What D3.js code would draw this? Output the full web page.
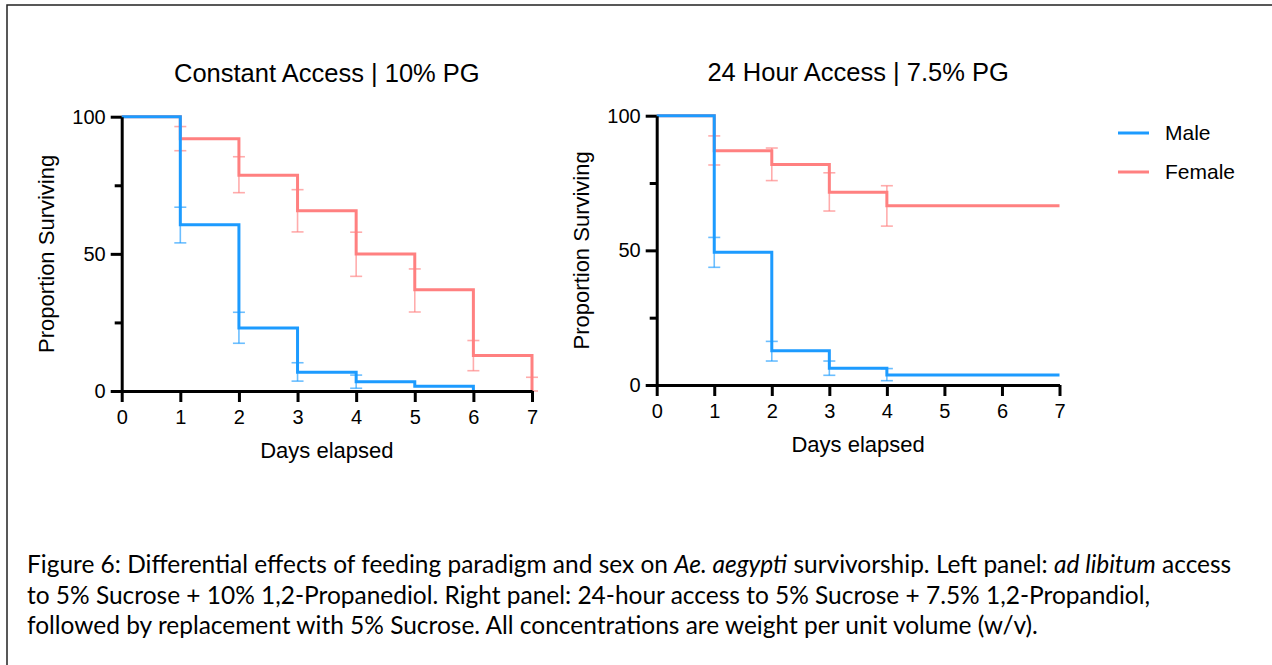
<!DOCTYPE html>
<meta charset="utf-8">
<style>
body { margin: 0; background: #fff; }
svg text { font-family: "Liberation Sans", Arial, sans-serif; fill: #000; }
.axis path, .axis line { stroke: #000; stroke-width: 3px; }
.axis text { font-size: 20px; font-family: "Liberation Sans", Arial, sans-serif; }
.step { fill: none; stroke-width: 3px; }
.err { stroke-width: 1.6px; stroke-opacity: 0.65; }
.caption { font-family: Lato, "Open Sans", sans-serif; }
</style>
<svg width="1272" height="665"></svg>
<script src="https://cdn.jsdelivr.net/npm/d3@7"></script>
<script>
// survival data, % surviving per day
var days = [0, 1, 2, 3, 4, 5, 6, 7];
var yTicks = [0, 50, 100];
var yMinor = [25, 75];

var leftMale   = [100, 60.6, 23.0, 6.8, 3.4, 1.7, 0];
var leftFemale = [100, 92.0, 78.7, 65.7, 49.9, 36.9, 12.9, 0];
var rightMale   = [100, 49.3, 12.7, 6.2, 3.7, 3.7, 3.7, 3.7];
var rightFemale = [100, 87.0, 81.9, 71.6, 66.6, 66.6, 66.6, 66.6];

// error bars: [day, upper, lower]
var leftMaleErr = [[1, 67.0, 54.0], [2, 28.7, 17.4], [3, 10.3, 3.6], [4, 5.8, 1.0]];
var leftFemaleErr = [[1, 96.4, 87.6], [2, 85.4, 72.3], [3, 73.4, 58.0], [4, 57.9, 41.8],
                     [5, 44.5, 28.8], [6, 18.4, 7.4], [7, 5.0, 0]];
var rightMaleErr = [[1, 54.8, 43.7], [2, 16.2, 8.9], [3, 8.9, 3.6], [4, 6.1, 1.6]];
var rightFemaleErr = [[1, 92.5, 81.7], [2, 88.0, 75.9], [3, 78.8, 64.6], [4, 74.0, 59.0]];

var seriesNames = ["Male", "Female"];
var colors = {Male: "#1c9bff", Female: "#ff8080"};

var panels = [
  {title: "Constant Access | 10% PG", x0: 121.7, x1: 532, yTop: 116.7, yBot: 391,
   male: leftMale, female: leftFemale, maleErr: leftMaleErr, femaleErr: leftFemaleErr},
  {title: "24 Hour Access | 7.5% PG", x0: 656.7, x1: 1059.5, yTop: 115.7, yBot: 385,
   male: rightMale, female: rightFemale, maleErr: rightMaleErr, femaleErr: rightFemaleErr}
];

var svg = d3.select("svg");

// frame lines (top and left only)
svg.append("path").attr("d", "M7,665V5H1272")
   .attr("fill", "none").attr("stroke", "#222").attr("stroke-width", 1.5);

panels.forEach(function(p) {
  var x = d3.scaleLinear().domain([0, 7]).range([p.x0, p.x1]);
  var y = d3.scaleLinear().domain([0, 100]).range([p.yBot, p.yTop]);
  var g = svg.append("g");

  var line = d3.line()
    .x(function(d, i) { return x(days[i]); })
    .y(function(d) { return y(d); })
    .curve(d3.curveStepAfter);

  [["Female", p.female, p.femaleErr], ["Male", p.male, p.maleErr]].forEach(function(s) {
    var c = colors[s[0]];
    var eb = g.append("g").selectAll("g").data(s[2]).enter().append("g");
    eb.append("line").attr("class", "err").attr("stroke", c)
      .attr("x1", function(d) { return x(d[0]); }).attr("x2", function(d) { return x(d[0]); })
      .attr("y1", function(d) { return y(d[1]); }).attr("y2", function(d) { return y(d[2]); });
    eb.append("line").attr("class", "err").attr("stroke", c)
      .attr("x1", function(d) { return x(d[0]) - 6; }).attr("x2", function(d) { return x(d[0]) + 6; })
      .attr("y1", function(d) { return y(d[1]); }).attr("y2", function(d) { return y(d[1]); });
    eb.append("line").attr("class", "err").attr("stroke", c)
      .attr("x1", function(d) { return x(d[0]) - 6; }).attr("x2", function(d) { return x(d[0]) + 6; })
      .attr("y1", function(d) { return y(d[2]); }).attr("y2", function(d) { return y(d[2]); });
    g.append("path").attr("class", "step").attr("stroke", c).attr("d", line(s[1]));
  });

  var xAxis = g.append("g").attr("class", "axis")
    .attr("transform", "translate(0," + p.yBot + ")")
    .call(d3.axisBottom(x).tickValues(days).tickFormat(d3.format("d")).tickSize(11).tickSizeOuter(0).tickPadding(8));
  var yAxis = g.append("g").attr("class", "axis")
    .attr("transform", "translate(" + p.x0 + ",0)")
    .call(d3.axisLeft(y).tickValues(yTicks).tickSize(11).tickSizeOuter(0).tickPadding(5));
  g.append("g").attr("class", "axis")
    .attr("transform", "translate(" + p.x0 + ",0)")
    .call(d3.axisLeft(y).tickValues(yMinor).tickSize(7).tickFormat("").tickSizeOuter(0))
    .select(".domain").remove();
  [xAxis, yAxis].forEach(function(a) { a.selectAll("text").attr("fill", "#000"); });

  var cx = (p.x0 + p.x1) / 2;
  g.append("text").attr("x", cx).attr("y", p.yTop - 35)
    .attr("text-anchor", "middle").style("font-size", "25.5px").text(p.title);
  g.append("text").attr("x", cx).attr("y", p.yBot + 67)
    .attr("text-anchor", "middle").style("font-size", "22px").text("Days elapsed");
  g.append("text")
    .attr("transform", "translate(" + (p.x0 - 68) + "," + ((p.yTop + p.yBot) / 2) + ") rotate(-90)")
    .attr("text-anchor", "middle").style("font-size", "22px").text("Proportion Surviving");
});

// legend
var leg = svg.append("g").selectAll("g").data(seriesNames).enter().append("g")
  .attr("transform", function(d, i) { return "translate(1118," + (133 + i * 39) + ")"; });
leg.append("line").attr("x1", 0).attr("x2", 31)
  .attr("stroke", function(d) { return colors[d]; }).attr("stroke-width", 3);
leg.append("text").attr("x", 47).attr("dy", "0.35em").style("font-size", "21px")
  .text(function(d) { return d; });

// caption
var captionLines = [
  [["Figure 6: Differential effects of feeding paradigm and sex on ", false], ["Ae. aegypti", true],
   [" survivorship. Left panel: ", false], ["ad libitum", true], [" access", false]],
  [["to 5% Sucrose + 10% 1,2-Propanediol. Right panel: 24-hour access to 5% Sucrose + 7.5% 1,2-Propandiol,", false]],
  [["followed by replacement with 5% Sucrose. All concentrations are weight per unit volume (w/v).", false]]
];
var cap = svg.append("g").attr("class", "caption");
var capText = cap.selectAll("text").data(captionLines).enter().append("text")
  .attr("x", 27).attr("y", function(d, i) { return 573 + i * 30.7; })
  .style("font-size", "20px").style("font-family", "Lato, 'Open Sans', sans-serif");
capText.selectAll("tspan").data(function(d) { return d; }).enter().append("tspan")
  .style("font-style", function(d) { return d[1] ? "italic" : "normal"; })
  .text(function(d) { return d[0]; });
// fit first line to the width seen in the figure
var w0 = capText.node().getComputedTextLength();
capText.style("font-size", (20 * 1205 / w0) + "px");
</script>
